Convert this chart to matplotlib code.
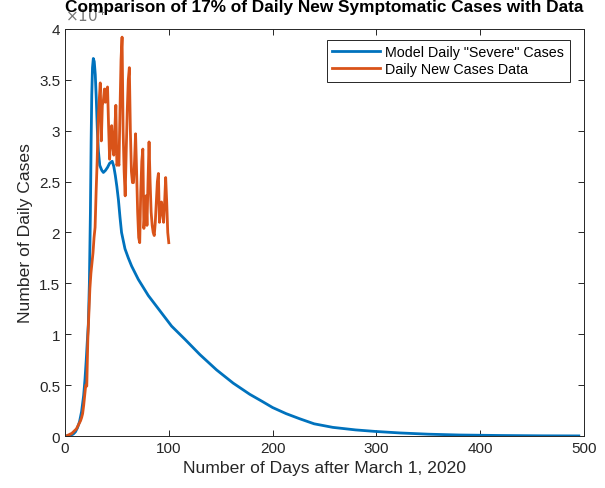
# model vs data comparison plot

import numpy as np
import matplotlib.pyplot as plt
from matplotlib.ticker import FuncFormatter

plt.rcParams['font.family'] = ['Liberation Sans', 'DejaVu Sans']

# model curve (days, cases in units of 1e4)
model_days = [0, 5, 8, 10, 12, 14, 16, 18, 19.3, 20.5, 21.5, 22.5, 23.5, 24.5, 25.2,
              25.8, 26.5, 27.3, 28.2, 29.2, 30.2, 31.2, 32.2, 33.5, 35.5, 37, 39,
              41, 43, 45.5, 47, 48.5, 50, 51.5, 53, 54.5, 57.8, 61, 64.2, 70.6, 80.3,
              90, 102.7, 115.6, 130, 146, 162, 178, 190, 200, 213, 226, 240, 258,
              280, 299, 323, 350, 380, 420, 460, 495]
model_vals = [0.0, 0.005, 0.02, 0.04, 0.08, 0.14, 0.24, 0.40, 0.56, 0.75, 0.93, 1.10,
              1.50, 2.20, 2.90, 3.35, 3.62, 3.71, 3.68, 3.55, 3.30, 3.00, 2.80, 2.66,
              2.61, 2.59, 2.61, 2.64, 2.68, 2.70, 2.65, 2.56, 2.45, 2.32, 2.15, 2.00,
              1.84, 1.75, 1.67, 1.54, 1.38, 1.25, 1.08, 0.95, 0.80, 0.65, 0.52, 0.41,
              0.34, 0.28, 0.22, 0.17, 0.12, 0.085, 0.06, 0.045, 0.03, 0.018, 0.01,
              0.005, 0.002, 0.001]

# daily new cases data, days 1..100 (units of 1e4)
data_days = np.arange(1, 101)
data_vals = [0.0, 0.0, 0.01, 0.01, 0.02, 0.02, 0.03, 0.04, 0.05, 0.06,
             0.07, 0.09, 0.11, 0.13, 0.15, 0.18, 0.22, 0.30, 0.40, 0.50,
             0.49, 0.95, 1.20, 1.45, 1.60, 1.70, 1.80, 1.95, 2.05, 2.40,
             2.70, 3.10, 3.30, 3.47, 2.90, 3.25, 3.30, 3.41, 3.28, 3.40,
             3.43, 3.05, 2.72, 2.90, 3.05, 2.85, 2.76, 3.00, 3.25, 2.66,
             2.70, 2.66, 3.20, 3.70, 3.92, 3.00, 2.60, 2.36, 2.80, 3.20,
             3.50, 3.62, 3.00, 2.60, 2.49, 2.49, 2.70, 2.97, 2.60, 2.20,
             1.95, 1.90, 2.40, 2.70, 2.82, 2.04, 2.20, 2.36, 2.07, 2.50,
             2.89, 2.50, 2.20, 2.07, 2.00, 1.97, 2.10, 2.30, 2.50, 2.58,
             2.10, 2.20, 2.30, 2.20, 2.10, 2.30, 2.54, 2.30, 2.00, 1.90]

fig = plt.figure(figsize=(6.05, 4.89), dpi=100)
ax = fig.add_axes([0.1074, 0.1063, 0.8579, 0.8324])

ax.plot(model_days, np.array(model_vals) * 1e4, color='#0072BD', linewidth=2,
        label='Model Daily "Severe" Cases')
ax.plot(data_days, np.array(data_vals) * 1e4, color='#D95319', linewidth=2,
        label='Daily New Cases Data')

ax.set_xlim(0, 500)
ax.set_ylim(0, 4e4)
ax.set_xticks([0, 100, 200, 300, 400, 500])
ax.set_yticks(np.arange(0, 4.01, 0.5) * 1e4)
ax.yaxis.set_major_formatter(FuncFormatter(lambda v, p: '%g' % (v / 1e4)))
# exponent label sits under the title, like the original
ax.text(0.0, 1.012, r'$\times10^4$', transform=ax.transAxes, fontsize=11,
        color='#777777', ha='left', va='bottom')

ax.tick_params(direction='in', top=True, right=True, length=4, width=0.7,
               labelsize=11, colors='#262626')
for s in ax.spines.values():
    s.set_color('#262626')
    s.set_linewidth(0.7)

ax.set_xlabel('Number of Days after March 1, 2020', fontsize=12.6, color='#262626')
ax.set_ylabel('Number of Daily Cases', fontsize=12.6, color='#262626')
ax.set_title('Comparison of 17% of Daily New Symptomatic Cases with Data',
             fontsize=12.4, fontweight='bold', y=1.0246, va='baseline')

leg = ax.legend(loc='upper right', fontsize=10.3, fancybox=False, framealpha=1,
                edgecolor='#262626', handlelength=3.3, handletextpad=0.4,
                borderpad=0.4, labelspacing=0.2, borderaxespad=0,
                bbox_to_anchor=(0.973, 0.974))
leg.get_frame().set_linewidth(0.7)

plt.savefig('out.png', dpi=100)
